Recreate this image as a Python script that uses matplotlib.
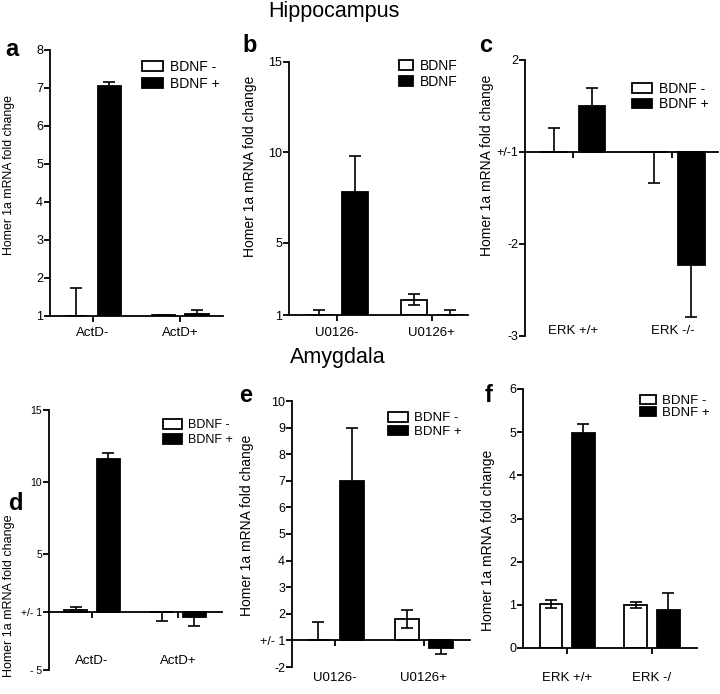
"""Homer 1a mRNA fold change: hippocampus (a-c) and amygdala (d-f) bar panels."""

import matplotlib
matplotlib.use("Agg")
import matplotlib.pyplot as plt
import matplotlib.transforms as mtransforms
from matplotlib.patches import Patch
import numpy as np

plt.rcParams["font.family"] = ["Liberation Sans", "DejaVu Sans"]

# ---- data (fold change; c/d/e use a folded +/-1 axis) ----
a_groups = ["ActD-", "ActD+"]
a_minus = [1.0, 1.02]
a_minus_err = [0.75, 0.0]
a_plus = [7.05, 1.05]
a_plus_err = [0.12, 0.12]

b_groups = ["U0126-", "U0126+"]
b_minus = [1.0, 1.85]
b_minus_err = [0.3, 0.32]
b_plus = [7.82, 1.0]
b_plus_err = [2.0, 0.3]

c_groups = ["ERK +/+", "ERK -/-"]
c_minus = [1.0, -1.0]
c_minus_err = [0.26, 0.34]
c_plus = [1.5, -2.23]
c_plus_err = [0.2, 0.56]

d_groups = ["ActD-", "ActD+"]
d_minus = [1.12, -1.0]
d_minus_err = [0.22, 0.58]
d_plus = [11.6, -1.35]
d_plus_err = [0.42, 0.62]

e_groups = ["U0126-", "U0126+"]
e_minus = [1.0, 1.8]
e_minus_err = [0.7, 0.35]
e_plus = [7.0, -1.29]
e_plus_err = [2.0, 0.23]

f_groups = ["ERK +/+", "ERK -/"]
f_minus = [1.02, 1.0]
f_minus_err = [0.1, 0.07]
f_plus = [4.98, 0.87]
f_plus_err = [0.2, 0.4]

W, H = 720, 694
fig = plt.figure(figsize=(W / 100, H / 100), dpi=100)
LW = 1.3


def fold(v):
    """Map fold change to plot units: +1 and -1 both sit at 0."""
    v = np.asarray(v, dtype=float)
    return np.where(v >= 1, v - 1, v + 1)


def add_axes(x0, y0, x1, y1):
    return fig.add_axes([x0 / W, 1 - y1 / H, (x1 - x0) / W, (y1 - y0) / H])


def draw_bars(ax, vals, errs, offset, color, base, folded):
    v = np.asarray(vals, dtype=float)
    e = np.asarray(errs, dtype=float)
    if folded:
        tip = fold(np.where(v >= 1, v + e, v - e))
        top = fold(v)
    else:
        tip = v + e
        top = v
    x = np.arange(len(v)) + offset
    ax.bar(x, top - base, bottom=base, width=0.27, color=color,
           edgecolor="black", linewidth=LW, zorder=2)
    d = tip - top
    two = np.abs(top - base) > np.abs(d)
    upper = np.where(d > 0, d, np.where(two, -d, 0))
    lower = np.where(d < 0, -d, np.where(two, d, 0))
    ax.errorbar(x, top, yerr=[lower, upper], fmt="none", ecolor="black",
                elinewidth=1.2, capsize=4, capthick=1.2, zorder=3)


def panel(rect, xlim, groups, minus, minus_err, plus, plus_err, base, folded,
          ylim, yticks, yticklabels, xlabel_y, tick_size=9):
    ax = add_axes(*rect)
    draw_bars(ax, minus, minus_err, -0.19, "white", base, folded)
    draw_bars(ax, plus, plus_err, 0.19, "black", base, folded)
    ax.set_xlim(*xlim)
    ax.set_ylim(*ylim)
    for s in ("top", "right"):
        ax.spines[s].set_visible(False)
    for s in ("left", "bottom"):
        ax.spines[s].set_linewidth(LW)
    ax.spines["bottom"].set_position(("data", base))
    ax.spines["bottom"].set_zorder(4)
    ax.set_yticks(yticks)
    ax.set_yticklabels(yticklabels)
    ax.set_xticks(range(len(groups)))
    ax.set_xticklabels([])
    ax.tick_params(axis="y", direction="out", length=4, width=LW,
                   labelsize=tick_size, pad=1)
    ax.tick_params(axis="x", direction="out", length=4, width=LW)
    trans = mtransforms.blended_transform_factory(ax.transData, fig.transFigure)
    for i, g in enumerate(groups):
        ax.text(i, 1 - xlabel_y / H, g, transform=trans, ha="center",
                va="center", fontsize=9.5)
    return ax


def legend(ax, labels, x, y, size, spacing, hl, hh):
    handles = [Patch(facecolor="white", edgecolor="black", linewidth=LW),
               Patch(facecolor="black", edgecolor="black", linewidth=LW)]
    ax.legend(handles, labels, loc="upper left", bbox_to_anchor=(x / W, 1 - y / H),
              bbox_transform=fig.transFigure, frameon=False, fontsize=size,
              borderpad=0, borderaxespad=0, handlelength=hl, handleheight=hh,
              handletextpad=0.5, labelspacing=spacing)


def ylabel(x, y, size=10):
    fig.text(x / W, 1 - y / H, "Homer 1a mRNA fold change", rotation=90,
             ha="center", va="center", fontsize=size)


# ---- Hippocampus ----
ax_a = panel((50, 50, 223, 316), (-0.49, 1.49), a_groups, a_minus, a_minus_err,
             a_plus, a_plus_err, 1, False, (1, 8), range(1, 9),
             [str(t) for t in range(1, 9)], 333)
legend(ax_a, ["BDNF -", "BDNF +"], 142, 60, 10, 0.2, 1.5, 0.72)

ax_b = panel((289, 62, 468, 315), (-0.505, 1.38), b_groups, b_minus, b_minus_err,
             b_plus, b_plus_err, 1, False, (1, 15), [1, 5, 10, 15],
             ["1", "5", "10", "15"], 333)
legend(ax_b, ["BDNF", "BDNF"], 399, 59, 10, 0.15, 1.0, 0.75)

ax_c = panel((525, 60, 718, 336), (-0.485, 1.46), c_groups, c_minus, c_minus_err,
             c_plus, c_plus_err, 0, True, (-2, 1), [1, 0, -1, -2],
             ["2", "+/-1", "-2", "-3"], 331)
legend(ax_c, ["BDNF -", "BDNF +"], 632, 82, 10, 0.1, 1.45, 0.72)

# ---- Amygdala ----
ax_d = panel((49, 410, 222, 670), (-0.5, 1.51), d_groups, d_minus, d_minus_err,
             d_plus, d_plus_err, 0, True, (-4, 14), [14, 9, 4, 0, -4],
             ["15", "10", "5", "+/- 1", "- 5"], 661, tick_size=7.5)
legend(ax_d, ["BDNF -", "BDNF +"], 163, 419, 9, 0.25, 1.5, 0.8)

e_ticks = [9, 8, 7, 6, 5, 4, 3, 2, 1, 0, -1]
ax_e = panel((292, 401, 470, 667), (-0.48, 1.52), e_groups, e_minus, e_minus_err,
             e_plus, e_plus_err, 0, True, (-1, 9), e_ticks,
             ["10", "9", "8", "7", "6", "5", "4", "3", "2", "+/- 1", "-2"], 678)
legend(ax_e, ["BDNF -", "BDNF +"], 388, 412, 9.5, 0.1, 1.5, 0.75)

ax_f = panel((523, 389, 697, 648), (-0.52, 1.53), f_groups, f_minus, f_minus_err,
             f_plus, f_plus_err, 0, False, (0, 6), range(0, 7),
             [str(t) for t in range(0, 7)], 678)
legend(ax_f, ["BDNF -", "BDNF +"], 640, 395, 9.5, 0.0, 1.2, 0.65)

# axis labels, titles, panel letters
for x, y, s in [(9, 175, 8.8), (250, 166, 10), (487, 165, 10),
                (9, 596, 9), (247, 525, 10), (488, 540, 10)]:
    ylabel(x, y, s)

fig.text(334 / W, 1 - 12 / H, "Hippocampus", ha="center", va="center", fontsize=15.5)
fig.text(338 / W, 1 - 357 / H, "Amygdala", ha="center", va="center", fontsize=15.5)

for letter, x, y in [("a", 12, 49), ("b", 250, 46), ("c", 486, 45),
                     ("d", 16, 503), ("e", 246, 396), ("f", 489, 396)]:
    fig.text(x / W, 1 - y / H, letter, ha="center", va="center",
             fontsize=17, fontweight="bold")

fig.savefig("out.png", dpi=100)
